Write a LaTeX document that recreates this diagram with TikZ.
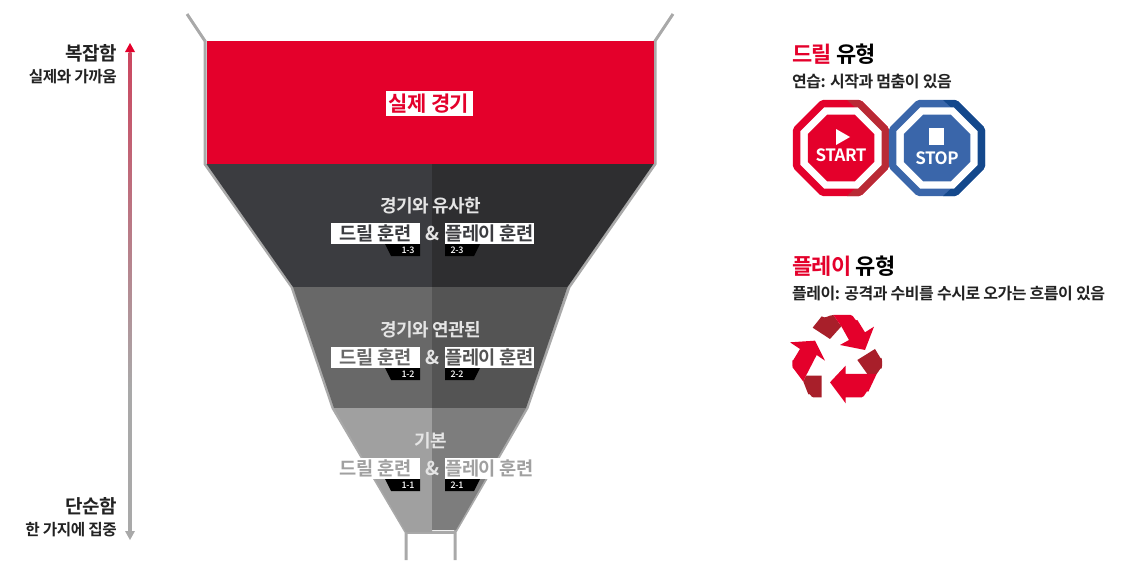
\documentclass[tikz,border=0pt]{standalone}
\usepackage{fontspec}
\newfontfamily\medfont{Noto Sans CJK KR Medium}[LetterSpace=-3]
\newfontfamily\boldfont{Noto Sans CJK KR Bold}[LetterSpace=-3]
\setmainfont{Noto Sans CJK KR}
\usetikzlibrary{positioning}
\definecolor{rux}{HTML}{E4002B}
\definecolor{rud}{HTML}{A81F2A}
\definecolor{rod}{HTML}{B92A35}
\definecolor{blx}{HTML}{3A66AA}
\definecolor{bld}{HTML}{14488C}
\definecolor{gax}{HTML}{A9A9A9}
\definecolor{inka}{HTML}{222222}
\definecolor{darkl}{HTML}{3B3C40}
\definecolor{darkr}{HTML}{2E2E30}
\definecolor{midl}{HTML}{686868}
\definecolor{midr}{HTML}{545454}
\definecolor{lightl}{HTML}{A0A0A0}
\definecolor{lightr}{HTML}{7D7D7D}
\pgfdeclareverticalshading{scalefade}{100bp}{color(0bp)=(gax); color(40bp)=(gax); color(100bp)=(rux)}
\tikzset{
    tagbox/.style={fill=white,inner sep=0pt,minimum width=89pt,minimum height=21pt,font=\fontsize{18.7}{18.7}\boldfont},
    tagnum/.style={fill=none,text=white,inner sep=0pt,font=\fontsize{9}{9}\medfont},
    bandhead/.style={inner sep=0pt,font=\fontsize{18}{18}\boldfont},
    amp/.style={inner sep=0pt,font=\fontsize{19}{19}\boldfont},
    typetitle/.style={anchor=west,inner sep=0pt,font=\fontsize{22}{22}\boldfont},
    typenote/.style={anchor=west,inner sep=0pt,text=inka,font=\fontsize{16}{16}\boldfont},
    scalemain/.style={anchor=east,inner sep=0pt,text=inka,font=\fontsize{19}{19}\boldfont},
    scalenote/.style={anchor=east,inner sep=0pt,text=inka,font=\fontsize{15.7}{15.7}\boldfont},
    signtext/.style={inner sep=0pt,text=white,font=\fontsize{17}{17}\boldfont}
}
\newcommand{\octpath}[1]{(22.5:#1) -- (67.5:#1) -- (112.5:#1) -- (157.5:#1) -- (202.5:#1) -- (247.5:#1) -- (292.5:#1) -- (337.5:#1) -- cycle}

\begin{document}
\begin{tikzpicture}[x=1pt,y=-1pt]
        \useasboundingbox (0,0) rectangle (1137,560);
        % outline of the funnel
        \draw [gax,line width=3pt] (187,14) -- (205,41) -- (205,164) -- (292,287) -- (333,408) -- (406,532) -- (406,560);
        \draw [gax,line width=3pt] (673,14) -- (655,41) -- (655,164) -- (569,287) -- (527,408) -- (455,532) -- (455,560);
        \draw [gax,line width=3pt] (406,532) -- (455,532);
        % bands
        \fill [rux] (206.5,41) rectangle (653.5,164);
        \fill [darkl] (206.5,164) -- (432,164) -- (432,287) -- (293,287) -- cycle;
        \fill [darkr] (432,164) -- (653.5,164) -- (567.5,287) -- (432,287) -- cycle;
        \fill [midl] (293,287) -- (432,287) -- (432,408) -- (334,408) -- cycle;
        \fill [midr] (432,287) -- (567.5,287) -- (526,408) -- (432,408) -- cycle;
        \fill [lightl] (334,408) -- (432,408) -- (432,532) -- (406,532) -- cycle;
        \fill [lightr] (432,408) -- (526,408) -- (456,530) -- (432,530) -- cycle;
        % labels of the bands
        \node [tagbox,minimum width=87pt,minimum height=25pt,text=rux,font=\fontsize{21}{21}\boldfont] (real) at (429,103.5) {실제 경기};
        \foreach \n/\y/\head/\txt/\txtb in {3/233/경기와 유사한/darkl/darkl,2/357/경기와 연관된/midl/midr,1/468/기본/lightl/lightl} {
            \node [bandhead,text=white!90!black] (head\n) at (431,\y-27) {\head};
            \node [tagbox,text=\txt] (drill\n) at (375.5,\y) {드릴 훈련};
            \node [tagbox,text=\txtb] (play\n) at (489.5,\y) {플레이 훈련};
            \node [amp,text=white!90!black] (amp\n) at (432.5,\y) {\&};
            \fill [black] (385,\y+11) -- (420,\y+11) -- (420,\y+23) -- (391,\y+23) -- cycle;
            \fill [black] (445,\y+11) -- (480,\y+11) -- (474,\y+23) -- (445,\y+23) -- cycle;
            \node [tagnum] (numa\n) at (408,\y+17) {1-\n};
            \node [tagnum] (numb\n) at (457,\y+17) {2-\n};
        }
        % scale on the left
        \coordinate (scaletop) at (130,43);
        \coordinate (scalebot) at (130,540);
        \fill [rux] (scaletop) -- ++(5,9) -- ++(-10,0) -- cycle;
        \fill [gax] (scalebot) -- ++(5,-9) -- ++(-10,0) -- cycle;
        \shade [shading=scalefade] (128.5,52) rectangle (131.5,532);
        \node [scalemain] (complex) at (117,53) {복잡함};
        \node [scalenote] (near) at (117,77) {실제와 가까움};
        \node [scalemain] (simple) at (117,506) {단순함};
        \node [scalenote] (focus) at (117,530) {한 가지에 집중};
        % drill type
        \node [typetitle] (drilltitle) at (792,54) {\textcolor{rux}{드릴} 유형};
        \node [typenote] (drillnote) at (792,82) {연습: 시작과 멈춤이 있음};
        \foreach \cx/\main/\dark/\cut in {841/rux/rod/6,937/blx/bld/6} {
            \begin{scope}[shift={(\cx,148)}]
                \fill [\main,rounded corners=2pt] \octpath{52};
                \begin{scope}
                    \clip [rounded corners=2pt] \octpath{52};
                    \fill [\dark] (\cut,-48) -- (19,-36) -- (19,36) -- (\cut,48) -- (60,48) -- (60,-48) -- cycle;
                \end{scope}
                \fill [white] \octpath{44};
                \fill [\main] \octpath{36};
            \end{scope}
        }
        \fill [white] (836,129) -- (850,137) -- (836,145) -- cycle;
        \node [signtext] (start) at (841,155) {START};
        \fill [white] (929,128) rectangle (944,145);
        \node [signtext] (stop) at (937,158) {STOP};
        % play type
        \node [typetitle] (playtitle) at (792,266) {\textcolor{rux}{플레이} 유형};
        \node [typenote] (playnote) at (792,294) {플레이: 공격과 수비를 수시로 오가는 흐름이 있음};
        \begin{scope}[shift={(780,245)},x=0.3333pt,y=-0.3333pt]
            \fill [rud] (98,248) -- (125,214) to [out=-40,in=180] (160,210) -- (184,244) -- (150,282) -- cycle;
            \fill [rux] (160,210) -- (212,210) to [out=0,in=-125] (232,225) -- (255,262) -- (282,245) -- (255,315) -- (180,300) -- (207,285) -- (184,244) -- cycle;
            \fill [rud] (232,345) -- (285,312) -- (302,340) to [out=60,in=-60] (302,370) -- (290,387) -- (262,387) -- cycle;
            \fill [rux] (290,387) -- (265,440) to [out=125,in=0] (245,457) -- (197,457) -- (197,475) -- (150,412) -- (197,362) -- (197,387) -- cycle;
            \fill [rud] (70,410) -- (78,392) -- (125,392) -- (125,457) -- (100,457) to [out=180,in=60] (85,448) -- cycle;
            \fill [rux] (70,410) -- (40,370) to [out=-110,in=120] (40,345) -- (60,312) -- (30,292) -- (105,287) -- (135,347) -- (110,330) -- (78,392) -- cycle;
        \end{scope}
    \end{tikzpicture}
\end{document}
